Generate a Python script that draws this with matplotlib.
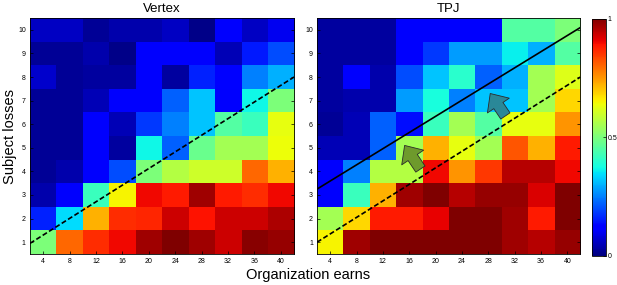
import numpy as np
import matplotlib
matplotlib.use("Agg")
import matplotlib.pyplot as plt

plt.rcParams['font.family'] = ['Liberation Sans', 'DejaVu Sans']

earns = [4, 8, 12, 16, 20, 24, 28, 32, 36, 40]
losses = [1, 2, 3, 4, 5, 6, 7, 8, 9, 10]

# rows: losses 10 (top) -> 1 (bottom); columns: earns 4 -> 40
vertex = [
    [0.06, 0.06, 0.02, 0.04, 0.04, 0.06, 0.01, 0.11, 0.06, 0.10],
    [0.02, 0.02, 0.04, 0.01, 0.11, 0.11, 0.11, 0.05, 0.15, 0.20],
    [0.07, 0.02, 0.03, 0.03, 0.11, 0.03, 0.16, 0.12, 0.25, 0.30],
    [0.02, 0.02, 0.05, 0.11, 0.11, 0.22, 0.32, 0.11, 0.37, 0.50],
    [0.02, 0.02, 0.11, 0.05, 0.18, 0.25, 0.32, 0.45, 0.42, 0.63],
    [0.02, 0.02, 0.11, 0.03, 0.37, 0.22, 0.48, 0.55, 0.55, 0.64],
    [0.02, 0.04, 0.11, 0.20, 0.50, 0.57, 0.60, 0.60, 0.80, 0.72],
    [0.04, 0.11, 0.42, 0.65, 0.90, 0.88, 0.97, 0.88, 0.86, 0.90],
    [0.16, 0.34, 0.72, 0.86, 0.87, 0.93, 0.89, 0.93, 0.93, 0.96],
    [0.50, 0.80, 0.86, 0.90, 0.97, 1.00, 0.97, 0.93, 0.99, 0.98],
]
tpj = [
    [0.03, 0.03, 0.03, 0.11, 0.11, 0.11, 0.11, 0.45, 0.45, 0.50],
    [0.03, 0.03, 0.03, 0.11, 0.18, 0.28, 0.28, 0.36, 0.30, 0.45],
    [0.03, 0.11, 0.04, 0.20, 0.32, 0.40, 0.22, 0.30, 0.55, 0.62],
    [0.03, 0.04, 0.04, 0.28, 0.38, 0.25, 0.32, 0.32, 0.55, 0.68],
    [0.02, 0.05, 0.22, 0.14, 0.42, 0.55, 0.45, 0.63, 0.63, 0.75],
    [0.05, 0.05, 0.22, 0.55, 0.72, 0.63, 0.55, 0.82, 0.72, 0.88],
    [0.11, 0.25, 0.57, 0.57, 0.90, 0.75, 0.85, 0.95, 0.95, 0.90],
    [0.11, 0.42, 0.72, 0.97, 1.00, 0.95, 0.98, 0.98, 0.92, 1.00],
    [0.55, 0.68, 0.88, 0.88, 0.91, 1.00, 1.00, 0.97, 0.88, 1.00],
    [0.65, 0.97, 1.00, 1.00, 1.00, 1.00, 1.00, 0.97, 0.95, 0.98],
]

# reference lines (earns, losses endpoints)
dashed_x = [2, 42]
dashed_y = [0.95, 8.0]
tpj_dashed_y = [1.0, 8.0]
tpj_solid_y = [3.25, 10.1]

fig = plt.figure(figsize=(6.17, 2.85), dpi=100)
ax1 = fig.add_axes([0.0486, 0.1088, 0.428, 0.828])
ax2 = fig.add_axes([0.5138, 0.1088, 0.427, 0.828])
cax = fig.add_axes([0.9595, 0.102, 0.0227, 0.833])

extent = [2, 42, 0.5, 10.5]
for ax, data, title in [(ax1, vertex, "Vertex"), (ax2, tpj, "TPJ")]:
    im = ax.imshow(np.array(data)[::-1], cmap="jet", vmin=0, vmax=1,
                   extent=extent, origin="lower", aspect="auto",
                   interpolation="nearest")
    ax.set_xticks(earns)
    ax.set_yticks(losses)
    ax.tick_params(direction="in", labelsize=5, length=2, width=0.5,
                   top=False, right=True, pad=3)
    ax.set_title(title, fontsize=9.5, pad=4)
    for s in ax.spines.values():
        s.set_linewidth(0.6)
    ax.set_xlim(2, 42)
    ax.set_ylim(0.5, 10.5)

ax1.plot(dashed_x, dashed_y, "k--", lw=1.2, dashes=(3, 1.5))
ax2.plot(dashed_x, tpj_dashed_y, "k--", lw=1.2, dashes=(3, 1.5))
ax2.plot(dashed_x, tpj_solid_y, "k-", lw=1.2)

arrow_style = "simple,head_length=0.55,head_width=1.0,tail_width=0.42"
ax2.annotate("", xy=(15.3, 5.1), xytext=(17.7, 4.1),
             arrowprops=dict(arrowstyle=arrow_style, fc="#6e9a2c", ec="#2a2a2a",
                             lw=0.6, mutation_scale=19, shrinkA=0, shrinkB=0))
ax2.annotate("", xy=(28.3, 7.3), xytext=(30.6, 6.35),
             arrowprops=dict(arrowstyle=arrow_style, fc="#2a8898", ec="#2a2a2a",
                             lw=0.6, mutation_scale=19, shrinkA=0, shrinkB=0))

cb = fig.colorbar(im, cax=cax, ticks=[0, 0.5, 1])
cb.ax.set_yticklabels(["0", "0.5", "1"])
cb.ax.tick_params(direction="in", labelsize=5, length=2, width=0.5, pad=1)
cb.outline.set_linewidth(0.6)

fig.text(0.5, 0.035, "Organization earns", ha="center", va="center", fontsize=10.5)
fig.text(0.017, 0.52, "Subject losses", ha="center", va="center", fontsize=10.5, rotation=90)

fig.savefig("out.png", dpi=100)
